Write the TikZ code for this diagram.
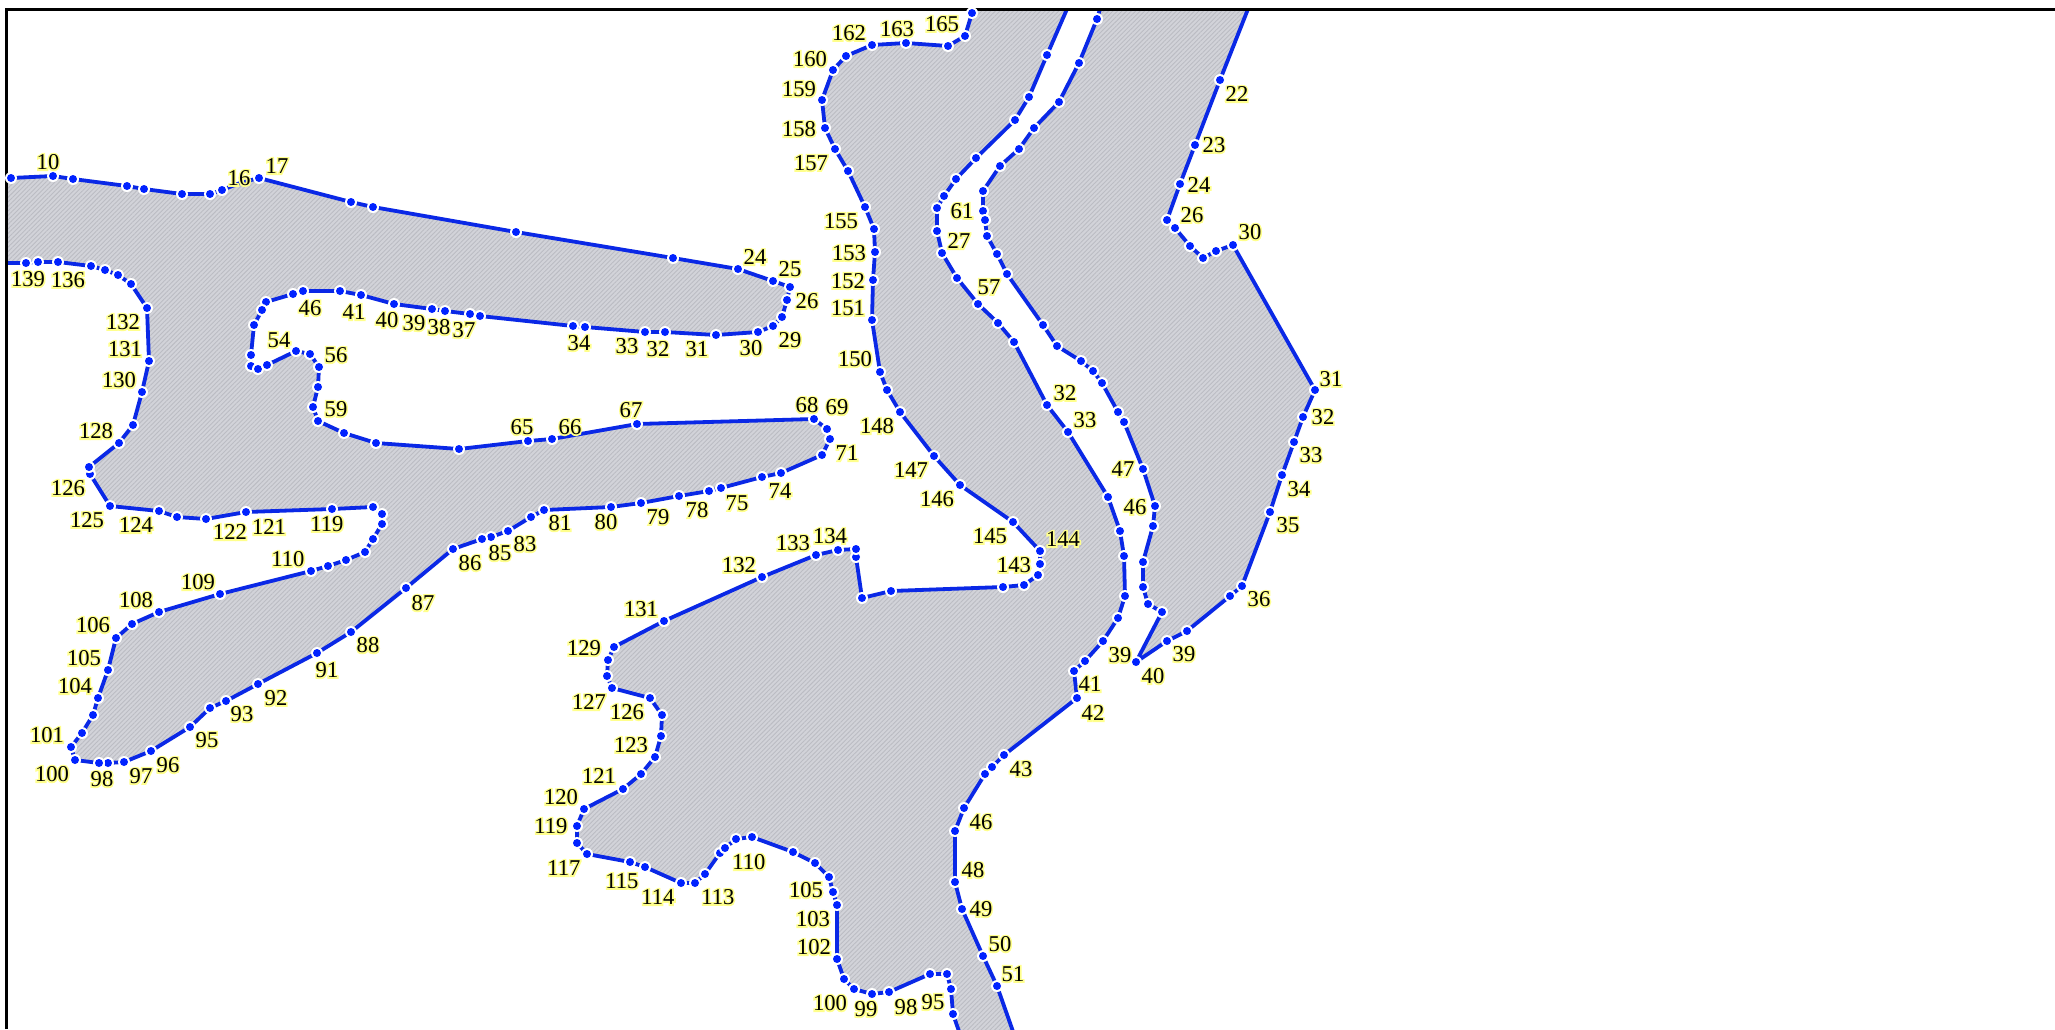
\documentclass[tikz,border=0pt]{standalone}
\usepackage{fontspec}
\setmainfont{Liberation Serif}
\usetikzlibrary{patterns.meta}
\definecolor{edgeblue}{HTML}{0A28E6}
\definecolor{dotblue}{HTML}{0022FF}
\definecolor{landgray}{HTML}{D2D3D9}
\definecolor{hatchgray}{HTML}{BBBCC3}
\newcommand{\halotext}[1]{\special{pdf:code 1 1 0.55 RG 1 1 0.55 rg 2 Tr 1.6 w}\rlap{#1}\special{pdf:code 0 Tr 0 0 0 RG 0 0 0 rg}#1}
% outlines
\newcommand{\pathA}{(6,178)(11,178)(53,176)(73,179)(127,186)(144,189)(182,194)(210,194)(222,190)(240,183)(259,178)(351,202)(373,207)(516,232)(673,258)(738,269)(773,281)(790,287)(787,300)(782,317)(773,326)(758,332)(716,335)(665,332)(645,332)(585,327)(573,326)(480,316)(470,314)(445,311)(432,309)(394,304)(361,295)(340,291)(303,291)(293,294)(266,302)(262,310)(254,325)(251,355)(251,366)(258,369)(267,365)(296,351)(310,354)(319,367)(318,387)(313,407)(318,421)(344,433)(376,443)(459,449)(528,441)(552,439)(637,424)(814,419)(827,429)(830,439)(822,455)(781,473)(762,477)(721,488)(709,491)(679,496)(641,503)(611,507)(544,510)(531,517)(508,531)(491,537)(482,539)(453,549)(406,588)(351,632)(317,653)(258,684)(226,701)(210,708)(190,727)(151,751)(124,762)(108,763)(99,763)(75,760)(71,747)(82,733)(93,715)(98,698)(108,670)(116,638)(132,624)(159,612)(220,594)(311,571)(328,566)(346,560)(365,552)(373,539)(382,524)(382,514)(373,507)(332,509)(246,512)(206,519)(177,517)(159,511)(110,506)(90,474)(89,467)(119,443)(133,425)(142,392)(149,361)(147,308)(131,284)(118,275)(105,270)(91,266)(58,262)(38,262)(26,263)(6,263)}
\newcommand{\pathB}{(974,9)(972,13)(965,36)(948,46)(906,43)(872,45)(846,56)(833,70)(822,100)(825,128)(835,149)(848,171)(865,207)(874,229)(875,252)(873,280)(872,320)(880,372)(887,390)(900,412)(934,456)(960,485)(1013,522)(1040,551)(1040,564)(1038,575)(1024,585)(1003,587)(891,591)(862,598)(856,557)(856,549)(838,550)(816,555)(762,577)(664,621)(614,647)(608,660)(607,676)(612,688)(650,698)(662,715)(661,736)(655,757)(641,774)(623,789)(584,809)(577,826)(577,843)(587,854)(630,862)(645,867)(681,883)(695,883)(705,874)(720,853)(725,848)(736,839)(752,837)(793,852)(815,863)(829,877)(833,892)(837,905)(837,959)(844,979)(854,989)(872,994)(889,992)(930,974)(947,974)(951,989)(953,1014)(962,1040)(1016,1040)(997,986)(983,956)(962,909)(955,882)(955,831)(964,808)(985,774)(992,767)(1004,755)(1077,698)(1074,671)(1085,661)(1103,641)(1118,618)(1125,596)(1124,556)(1120,531)(1108,497)(1068,432)(1047,405)(1014,342)(998,323)(978,304)(957,278)(942,253)(937,231)(937,208)(944,196)(956,179)(976,158)(1015,120)(1029,97)(1047,55)(1067,9)}
\newcommand{\pathC}{(1100,9)(1097,19)(1079,63)(1059,102)(1034,128)(1019,149)(1000,166)(983,191)(983,211)(985,220)(987,236)(997,254)(1007,274)(1043,325)(1057,346)(1081,361)(1093,371)(1102,383)(1118,412)(1124,422)(1143,469)(1155,506)(1153,526)(1143,562)(1143,587)(1148,604)(1162,612)(1136,662)(1167,641)(1187,631)(1230,596)(1242,586)(1270,512)(1282,475)(1294,442)(1303,417)(1315,390)(1233,245)(1216,251)(1203,258)(1190,246)(1175,228)(1167,220)(1180,184)(1195,145)(1220,80)(1248,9)}
\tikzset{
  land/.style={fill=landgray,draw=none,
    postaction={pattern={Lines[angle=45,distance=1.6pt,line width=0.45pt]},pattern color=hatchgray}},
  shore/.style={draw=edgeblue,line width=1.9pt,line join=round},
  lab/.style={inner sep=0pt,font=\fontsize{11.3}{13}\selectfont},
  frameline/.style={draw=black,line width=1.25pt},
  halo/.style={fill=white},
  dot/.style={fill=dotblue}
}
\begin{document}
\begin{tikzpicture}[x=0.5pt,y=-0.5pt]
\useasboundingbox (0,0) rectangle (2055,1029);
\fill[white] (0,0) rectangle (2055,1029);
\begin{scope}
\clip (0,0) rectangle (2055,1029);
% filled land
\path[land] plot coordinates {\pathA} -- cycle;
\path[land] plot coordinates {\pathB} -- cycle;
\path[land] plot coordinates {\pathC} -- cycle;
% shorelines
\draw[shore] plot coordinates {\pathA};
\draw[shore] plot coordinates {\pathB};
\draw[shore] plot coordinates {\pathC};
\end{scope}
% frame
\draw[frameline] (6.5,1029) -- (6.5,9.5) -- (2055,9.5);
% vertices
\foreach \px/\py in {
11/178,53/176,73/179,127/186,144/189,182/194,210/194,222/190,259/178,351/202,373/207,516/232,673/258,738/269,773/281,790/287,787/300,782/317,773/326,758/332,716/335,665/332,645/332,585/327,573/326,480/316,470/314,445/311,432/309,394/304,361/295,340/291,303/291,293/294,266/302,262/310,254/325,251/355,251/366,258/369,267/365,296/351,310/354,319/367,318/387,313/407,318/421,344/433,376/443,459/449,528/441,552/439,637/424,814/419,827/429,830/439,822/455,781/473,762/477,721/488,709/491,679/496,641/503,611/507,544/510,531/517,508/531,491/537,482/539,453/549,406/588,351/632,317/653,258/684,226/701,210/708,190/727,151/751,124/762,108/763,99/763,75/760,71/747,82/733,93/715,98/698,108/670,116/638,132/624,159/612,220/594,311/571,328/566,346/560,365/552,373/539,382/524,382/514,373/507,332/509,246/512,206/519,177/517,159/511,110/506,90/474,89/467,119/443,133/425,142/392,149/361,147/308,131/284,118/275,105/270,91/266,58/262,38/262,26/263,
972/13,965/36,948/46,906/43,872/45,846/56,833/70,822/100,825/128,835/149,848/171,865/207,874/229,875/252,873/280,872/320,880/372,887/390,900/412,934/456,960/485,1013/522,1040/551,1040/564,1038/575,1024/585,1003/587,891/591,862/598,856/557,856/549,838/550,816/555,762/577,664/621,614/647,608/660,607/676,612/688,650/698,662/715,661/736,655/757,641/774,623/789,584/809,577/826,577/843,587/854,630/862,645/867,681/883,695/883,705/874,720/853,725/848,736/839,752/837,793/852,815/863,829/877,833/892,837/905,837/959,844/979,854/989,872/994,889/992,930/974,947/974,951/989,953/1014,997/986,983/956,962/909,955/882,955/831,964/808,985/774,992/767,1004/755,1077/698,1074/671,1085/661,1103/641,1118/618,1125/596,1124/556,1120/531,1108/497,1068/432,1047/405,1014/342,998/323,978/304,957/278,942/253,937/231,937/208,944/196,956/179,976/158,1015/120,1029/97,1047/55,
1097/19,1079/63,1059/102,1034/128,1019/149,1000/166,983/191,983/211,985/220,987/236,997/254,1007/274,1043/325,1057/346,1081/361,1093/371,1102/383,1118/412,1124/422,1143/469,1155/506,1153/526,1143/562,1143/587,1148/604,1162/612,1136/662,1167/641,1187/631,1230/596,1242/586,1270/512,1282/475,1294/442,1303/417,1315/390,1233/245,1216/251,1203/258,1190/246,1175/228,1167/220,1180/184,1195/145,1220/80}
{\fill[halo] (\px,\py) circle[radius=6];
 \fill[dot] (\px,\py) circle[radius=4];}
% labels
\foreach \t/\lx/\ly [count=\n] in {
10/48/162,17/277/166,16/239/178,139/28/279,136/68/280,132/123/322,131/125/349,130/119/380,128/96/431,46/310/308,41/354/312,40/387/320,39/414/323,38/439/327,37/464/330,54/279/340,56/336/355,59/336/409,34/579/343,33/627/346,32/658/349,31/697/349,30/751/348,29/790/340,26/807/301,25/790/269,24/755/257,65/522/427,66/570/427,67/631/410,68/807/405,69/837/407,71/847/453,74/780/491,75/737/503,78/697/510,79/658/517,80/606/522,81/560/523,83/525/544,85/500/553,86/470/563,87/423/603,88/368/645,91/327/670,92/276/698,93/242/714,95/207/740,96/168/765,97/141/776,98/102/779,100/52/774,101/47/735,104/75/686,105/84/658,106/93/625,108/136/600,109/198/582,110/288/559,119/327/524,121/269/527,122/230/532,124/136/525,125/87/520,126/68/488,
162/849/33,163/897/29,165/942/24,160/810/59,159/799/89,158/799/129,157/811/163,155/841/221,153/849/253,152/848/281,151/848/308,150/855/359,148/877/426,147/911/470,146/937/499,145/990/536,144/1063/539,143/1014/565,134/830/536,133/793/543,132/739/565,131/641/609,129/584/648,127/589/702,126/627/712,123/631/745,121/599/776,120/561/797,119/551/826,117/564/868,115/622/881,114/658/897,113/718/897,110/749/862,105/806/890,103/813/919,102/814/947,100/830/1003,99/866/1009,98/906/1007,95/933/1002,
61/962/211,27/959/241,57/989/287,32/1065/393,33/1085/420,47/1123/469,46/1135/507,39/1120/655,41/1090/684,42/1093/713,43/1021/769,46/981/822,48/973/870,49/981/909,50/1000/944,51/1013/974,
22/1237/94,23/1214/145,24/1199/185,26/1192/215,30/1250/232,31/1331/379,32/1323/417,33/1311/455,34/1299/489,35/1288/525,36/1259/599,39/1184/654,40/1153/676}
{\node[lab] (label\n) at (\lx,\ly) {\halotext{\t}};}
\end{tikzpicture}
\end{document}
